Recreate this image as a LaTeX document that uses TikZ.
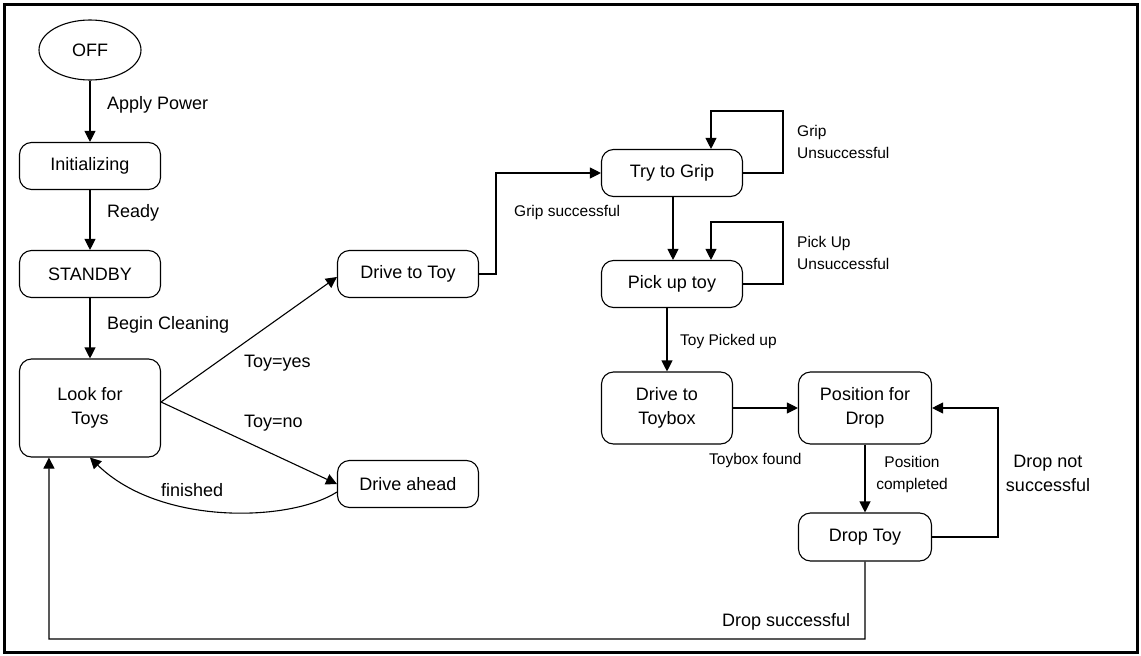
\documentclass[tikz,border=0pt]{standalone}
\usepackage{fontspec}
\setmainfont{Liberation Sans}
\usetikzlibrary{arrows.meta,shapes.geometric}
\newcommand\bigtxt{\fontsize{18}{24}\selectfont}
\newcommand\smalltxt{\fontsize{15.5}{22}\selectfont}
\tikzset{
  statebox/.style={draw, line width=1.1pt, rounded corners=12pt, inner sep=0pt,
    minimum width=141pt, minimum height=47pt, align=center, font=\bigtxt},
  arr/.style={line width=1.1pt, -{Triangle[length=11pt,width=11pt]}},
  biglab/.style={font=\bigtxt, inner sep=0pt, align=center},
  smalllab/.style={font=\smalltxt, inner sep=0pt, align=left},
}
\begin{document}
\begin{tikzpicture}[x=1pt,y=-1pt]
\useasboundingbox (0,0) rectangle (1141,656);
\draw[line width=3pt] (4,4) rectangle (1137,652);

\node[draw, ellipse, line width=1.1pt, inner sep=0pt, minimum width=102pt, minimum height=60pt, font=\bigtxt] (off) at (90,50) {OFF};
\node[statebox] (init) at (90,166) {Initializing};
\node[statebox] (standby) at (90,274) {STANDBY};
\node[statebox, minimum height=98pt] (look) at (90,408) {Look for\\Toys};
\node[statebox] (drivetoy) at (408,274) {Drive to Toy};
\node[statebox] (ahead) at (408,484) {Drive ahead};
\node[statebox] (grip) at (672,173) {Try to Grip};
\node[statebox] (pick) at (672,284) {Pick up toy};
\node[statebox, minimum width=131pt, minimum height=72pt] (toybox) at (667,408) {Drive to\\Toybox};
\node[statebox, minimum width=133pt, minimum height=72pt] (posdrop) at (865,408) {Position for\\Drop};
\node[statebox, minimum width=133pt, minimum height=48pt] (drop) at (865,537) {Drop Toy};

\coordinate (c1) at (496,274);
\coordinate (c2) at (783,111);
\coordinate (c3) at (783,222);
\coordinate (c4) at (998,537);
\coordinate (c5) at (49,639);

\draw[arr] (off) -- (init);
\draw[arr] (init) -- (standby);
\draw[arr] (standby) -- (look);
\draw[arr] ([yshift=6pt]look.east) -- ([yshift=-3pt]drivetoy.west);
\draw[arr] ([yshift=6pt]look.east) -- (ahead.west);
\draw[arr] ([yshift=-8pt]ahead.west) .. controls (290,522) and (160,526) .. (look.south);
\draw[arr] (drivetoy.east) -- (c1) |- (grip.west);
\draw[arr] (grip.east) -| (c2) -| ([xshift=39pt]grip.north);
\draw[arr] ([xshift=1pt]grip.south) -- ([xshift=1pt]pick.north);
\draw[arr] (pick.east) -| (c3) -| ([xshift=39pt]pick.north);
\draw[arr] ([xshift=-5pt]pick.south) -- (toybox.north);
\draw[arr] (toybox) -- (posdrop);
\draw[arr] (posdrop) -- (drop);
\draw[arr] (drop.east) -- (c4) |- (posdrop.east);
\draw[arr] (drop.south) |- (c5) -- ([xshift=30pt]look.south west);

\node[biglab, anchor=west] (l1) at (107,105) {Apply Power};
\node[biglab, anchor=west] (l2) at (107,213) {Ready};
\node[biglab, anchor=west] (l3) at (107,325) {Begin Cleaning};
\node[biglab, anchor=west] (l4) at (244,363) {Toy=yes};
\node[biglab, anchor=west] (l5) at (244,423) {Toy=no};
\node[biglab, anchor=west] (l6) at (161,490) {finished};
\node[smalllab, anchor=west] (l7) at (514,212) {Grip successful};
\node[smalllab, anchor=west] (l8) at (797,142) {Grip\\Unsuccessful};
\node[smalllab, anchor=west] (l9) at (797,253) {Pick Up\\Unsuccessful};
\node[smalllab, anchor=west] (l10) at (680,341) {Toy Picked up};
\node[smalllab, anchor=west] (l11) at (709,460) {Toybox found};
\node[smalllab, align=center] (l12) at (912,474) {Position\\completed};
\node[biglab] (l13) at (1048,473) {Drop not\\successful};
\node[biglab, anchor=west] (l14) at (722,622) {Drop successful};
\end{tikzpicture}
\end{document}
